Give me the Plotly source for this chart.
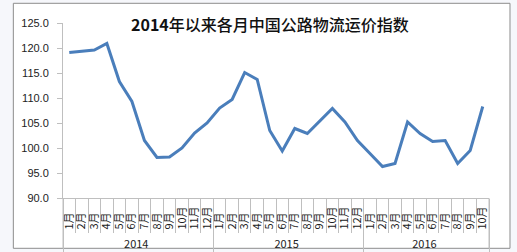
import plotly.graph_objects as go

years = ["2014"] * 12 + ["2015"] * 12 + ["2016"] * 10
months = [f"{m}月" for m in range(1, 13)] * 2 + [f"{m}月" for m in range(1, 11)]
values = [119.1, 119.4, 119.6, 120.9, 113.3, 109.3, 101.5, 98.1, 98.2, 100.0, 103.0, 105.0,
          108.0, 109.7, 115.1, 113.7, 103.5, 99.4, 103.9, 102.9, 105.4, 107.9, 105.2, 101.5,
          98.9, 96.3, 96.9, 105.2, 102.9, 101.3, 101.5, 96.9, 99.5, 108.3]
y_ticks = [90, 95, 100, 105, 110, 115, 120, 125]
title_year = "2014"
title_rest = "年以来各月中国公路物流运价指数"

# pad single-digit month labels so that all labels end at the same place
month_labels = [m if len(m) > 2 else m + "\u2007" for m in months]

W, H = 517, 252
L, R, T, B = 62.7, 28, 22.7, 54.3
pw = W - L - R
ph = H - T - B

def px2paper_x(px):
    return (px - L) / pw

def px2paper_y(py):
    return 1 - (py - T) / ph

fig = go.Figure()
fig.add_trace(go.Scatter(
    x=[years, month_labels], y=values, mode="lines",
    line=dict(color="#4A7EBB", width=3), hoverinfo="skip", showlegend=False,
))

font_num = "Liberation Sans, Noto Sans CJK SC, sans-serif"
fig.update_layout(
    width=W, height=H,
    margin=dict(l=L, r=R, t=T, b=B, pad=0, autoexpand=False),
    paper_bgcolor="#F6F7FB",
    plot_bgcolor="white",
    font=dict(family=font_num, size=11, color="#222"),
    xaxis=dict(
        type="multicategory",
        automargin=False,
        range=[-0.5, len(values) - 0.5],
        tickmode="linear", dtick=1,
        tickangle=-90,
        ticklabelstandoff=3,
        showline=True, linecolor="#BFBFBF", linewidth=1,
        ticks="outside", ticklen=34, tickcolor="#BFBFBF", tickson="boundaries",
        showdividers=True, dividercolor="#BFBFBF", dividerwidth=1,
        showgrid=False, zeroline=False,
        tickfont=dict(family="Noto Sans CJK SC, sans-serif", size=11, color="#222"),
    ),
    yaxis=dict(
        automargin=False,
        range=[90, 125], tickvals=y_ticks,
        ticktext=[f"{v:.1f}" for v in y_ticks],
        showline=True, linecolor="#BFBFBF", linewidth=1,
        ticks="outside", ticklen=5, tickcolor="#BFBFBF",
        ticklabelstandoff=6,
        showgrid=False, zeroline=False,
        tickfont=dict(family=font_num, size=11, color="#222"),
    ),
    shapes=[
        dict(type="rect", xref="paper", yref="paper", layer="below",
             x0=px2paper_x(13), x1=px2paper_x(510), y0=px2paper_y(248), y1=px2paper_y(3),
             line=dict(color="#8C8C8C", width=1), fillcolor="white"),
        dict(type="line", xref="paper", yref="paper",
             x0=0, x1=0, y0=px2paper_y(248), y1=0,
             line=dict(color="#BFBFBF", width=1)),
        dict(type="line", xref="paper", yref="paper",
             x0=1, x1=1, y0=px2paper_y(248), y1=0,
             line=dict(color="#BFBFBF", width=1)),
    ],
    annotations=[dict(
        text=f"<b>{title_year}</b>{title_rest}", xref="paper", yref="paper",
        x=px2paper_x(269.5), y=px2paper_y(24), xanchor="center", yanchor="middle",
        showarrow=False,
        font=dict(family="Noto Sans CJK SC, sans-serif", size=16, color="#111", weight=500),
    )],
)
fig.write_html("out.html")
